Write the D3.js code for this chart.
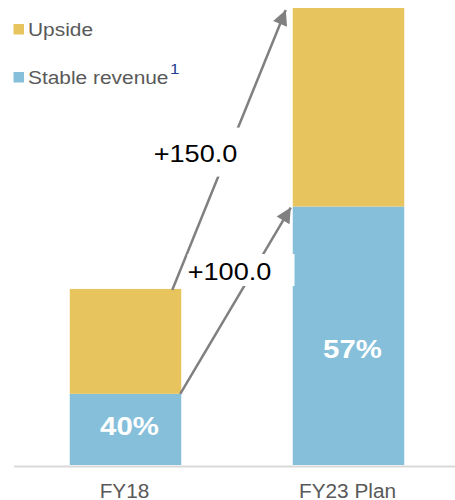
<!DOCTYPE html>
<html>
<head>
<meta charset="utf-8">
<script src="https://cdn.jsdelivr.net/npm/d3@7"></script>
<style>
  html, body { margin: 0; padding: 0; background: #fff; }
  svg { display: block; }
  text { font-family: "Liberation Sans", Arial, sans-serif; }
</style>
</head>
<body>
<svg id="chart" width="455" height="500"></svg>
<script>
// Revenue build-up, FY18 vs FY23 plan
const categories = ["FY18", "FY23 Plan"];
const stableRevenue = [38, 138];
const upside = [56, 106];
const seriesNames = ["Upside", "Stable revenue"];
const seriesColors = { stable: "#86BFDA", upside: "#E8C45E" };

const svg = d3.select("#chart");
const W = 455;
const textScale = 1.13;

const totals = categories.map((c, i) => stableRevenue[i] + upside[i]);

const x = d3.scaleBand().domain(categories).range([14, 460])
  .paddingInner(0.5).paddingOuter(0.25);
const y = d3.scaleLinear().domain([0, d3.max(totals)]).range([465, 8]);

// Helper: text with slight horizontal widening
function label(g, px, py, str, opts) {
  const sx = opts.scale || textScale;
  return g.append("text")
    .attr("transform", `translate(${px},${py}) scale(${sx},1)`)
    .attr("text-anchor", opts.anchor || "middle")
    .attr("font-size", opts.size)
    .attr("font-weight", opts.weight || "normal")
    .attr("fill", opts.fill)
    .text(str);
}

// Stacked bars
const rows = categories.map((c, i) => ({ c, stable: stableRevenue[i], upside: upside[i], total: totals[i] }));
const bars = svg.append("g");
rows.forEach(d => {
  bars.append("rect")
    .attr("x", x(d.c)).attr("width", x.bandwidth())
    .attr("y", y(d.stable)).attr("height", y(0) - y(d.stable))
    .attr("fill", seriesColors.stable);
  bars.append("rect")
    .attr("x", x(d.c)).attr("width", x.bandwidth())
    .attr("y", y(d.total)).attr("height", y(d.stable) - y(d.total))
    .attr("fill", seriesColors.upside);
});

// Baseline axis
svg.append("line")
  .attr("x1", 14).attr("x2", W)
  .attr("y1", y(0) + 1.5).attr("y2", y(0) + 1.5)
  .attr("stroke", "#D9D9D9").attr("stroke-width", 2);

// Category labels
rows.forEach(d => {
  label(svg, x(d.c) + x.bandwidth() / 2 - 1, 498, d.c, { size: 20, scale: 1.04, fill: "#595959" });
});

// Share of stable revenue inside each bar
rows.forEach(d => {
  const pct = Math.round(d.stable / d.total * 100) + "%";
  const top = y(d.stable), h = y(0) - y(d.stable);
  label(svg, x(d.c) + x.bandwidth() / 2 + 4, top + 0.585 * h, pct,
    { size: 26, weight: "bold", fill: "#fff" });
});

// Growth arrows
const defs = svg.append("defs");
defs.append("marker")
  .attr("id", "head")
  .attr("viewBox", "0 0 10 10")
  .attr("refX", 10).attr("refY", 5)
  .attr("markerUnits", "userSpaceOnUse")
  .attr("markerWidth", 17).attr("markerHeight", 15)
  .attr("orient", "auto")
  .append("path").attr("d", "M0,0 L10,5 L0,10 Z").attr("fill", "#808080");

const a = rows[0], b = rows[1];
const arrows = [
  { // total growth
    x1: x(a.c) + x.bandwidth() - 9, y1: y(a.total) + 1,
    x2: x(b.c) - 7, y2: y(b.total) + 2,
    text: "+" + (b.total - a.total).toFixed(1),
    t: 0.487, dx: -32, box: [-45, 50, -26, 23]
  },
  { // stable growth
    x1: x(a.c) + x.bandwidth() - 1, y1: y(a.stable),
    x2: x(b.c) - 2, y2: y(b.stable) + 1,
    text: "+" + (b.stable - a.stable).toFixed(1),
    t: 0.654, dx: -23, box: [-42, 65, -18, 14]
  }
];

const arrowG = svg.append("g");
arrows.forEach(d => {
  arrowG.append("line")
    .attr("x1", d.x1).attr("y1", d.y1)
    .attr("x2", d.x2).attr("y2", d.y2)
    .attr("stroke", "#808080").attr("stroke-width", 2.5)
    .attr("marker-end", "url(#head)");
});
arrows.forEach(d => {
  const cx = d.x1 + d.t * (d.x2 - d.x1) + d.dx;
  const cy = d.y1 + d.t * (d.y2 - d.y1);
  arrowG.append("rect")
    .attr("x", cx + d.box[0]).attr("width", d.box[1] - d.box[0])
    .attr("y", cy + d.box[2]).attr("height", d.box[3] - d.box[2])
    .attr("fill", "#fff");
  label(arrowG, cx, cy + 8.5, d.text, { size: 24, fill: "#000" });
});

// Legend
const legend = svg.append("g");
const legendItems = [
  { name: seriesNames[0], color: seriesColors.upside, y: 36 },
  { name: seriesNames[1], color: seriesColors.stable, y: 84, note: "1" }
];
legendItems.forEach(d => {
  legend.append("rect")
    .attr("x", 13.5).attr("y", d.y - 12).attr("width", 10.5).attr("height", 10.5)
    .attr("fill", d.color);
  const t = label(legend, 28, d.y, d.name, { size: 18.5, fill: "#595959", anchor: "start" });
  if (d.note) {
    const w = t.node().getComputedTextLength() * textScale;
    label(legend, 28 + w + 1.5, d.y - 10, d.note, { size: 15, fill: "#1F3F8F", anchor: "start" });
  }
});
</script>
</body>
</html>
